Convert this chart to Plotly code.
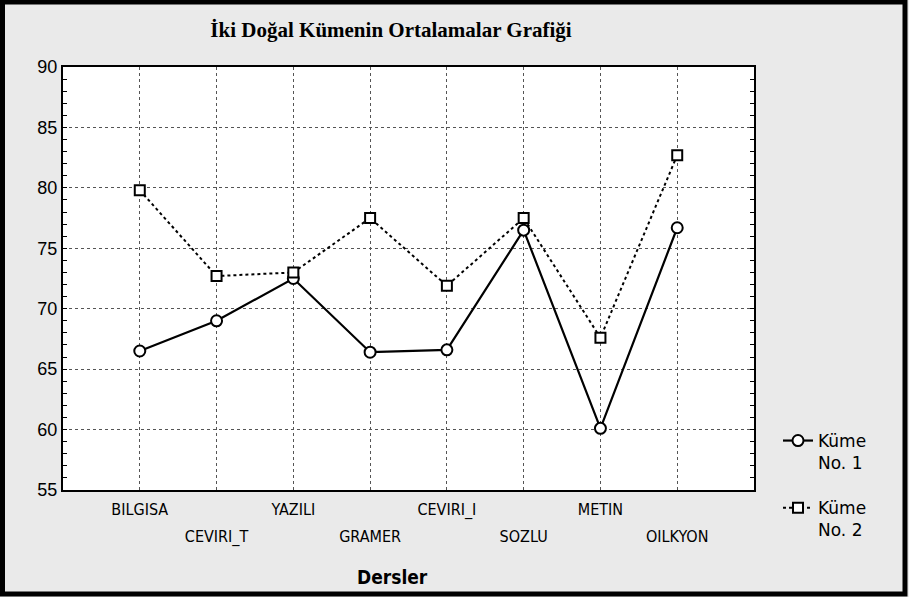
import plotly.graph_objects as go

categories = ["BILGISA", "CEVIRI_T", "YAZILI", "GRAMER", "CEVIRI_I", "SOZLU", "METIN", "OILKYON"]
kume1 = [66.5, 69.0, 72.5, 66.4, 66.6, 76.5, 60.1, 76.7]
kume2 = [79.8, 72.7, 73.0, 77.5, 71.9, 77.5, 67.6, 82.7]
series_names = ["Küme<br>No. 1", "Küme<br>No. 2"]
y_ticks = [55, 60, 65, 70, 75, 80, 85, 90]

idx = list(range(len(categories)))
even_idx = [i for i in idx if i % 2 == 0]
odd_idx = [i for i in idx if i % 2 == 1]

W, H = 909, 597
L, R, T, B = 63, 155, 67, 107
pw, ph = W - L - R, H - T - B

def px(xp):
    return (xp - L) / pw

def py(yp):
    return (H - B - yp) / ph

fig = go.Figure()
fig.add_trace(go.Scatter(
    x=idx, y=kume1, name=series_names[0], mode="lines+markers", legendgroup="a",
    line=dict(color="black", width=2.2),
    marker=dict(symbol="circle", size=11, color="white", line=dict(color="black", width=2)),
))
fig.add_trace(go.Scatter(
    x=idx, y=kume2, name=series_names[1], mode="lines+markers", legendgroup="b",
    xaxis="x2",
    line=dict(color="black", width=2, dash="dot"),
    marker=dict(symbol="square", size=10, color="white", line=dict(color="black", width=2)),
))

fig.add_shape(type="rect", xref="paper", yref="paper",
              x0=px(2.5), x1=px(905), y0=py(594), y1=py(2),
              line=dict(color="black", width=5), fillcolor="rgba(0,0,0,0)", layer="above")

fig.add_annotation(text="<b>Dersler</b>", xref="paper", yref="paper",
                   x=px(392), y=py(577), xanchor="center", yanchor="middle", showarrow=False,
                   font=dict(family="DejaVu Sans Condensed, sans-serif", size=19, color="black"))

tick_font = dict(family="DejaVu Sans Condensed, Liberation Sans Narrow, sans-serif", size=16, color="black")

fig.update_layout(
    width=W, height=H,
    margin=dict(l=L, r=R, t=T, b=B),
    paper_bgcolor="#eaeaea",
    plot_bgcolor="white",
    title=dict(text="<b>İki Doğal Kümenin Ortalamalar Grafiği</b>",
               font=dict(family="Liberation Serif, Times New Roman, serif", size=21, color="black"),
               x=391 / W, xanchor="center", y=1 - 30 / H, yanchor="middle"),
    legend=dict(x=px(778), y=py(423), xanchor="left", yanchor="top",
                font=dict(family="DejaVu Sans, sans-serif", size=17, color="black"),
                bgcolor="rgba(0,0,0,0)", valign="top", tracegroupgap=20),
    showlegend=True,
    xaxis=dict(
        range=[-1, 8], tickmode="array", tickvals=idx,
        ticktext=[c if i % 2 == 0 else "" for i, c in enumerate(categories)],
        showgrid=True, gridcolor="#555555", griddash="dot", gridwidth=1,
        showline=True, linecolor="black", linewidth=2, mirror=True,
        ticks="", zeroline=False, ticklabelstandoff=4, tickfont=tick_font,
    ),
    xaxis2=dict(
        range=[-1, 8], overlaying="x", matches="x", side="bottom", anchor="y",
        tickmode="array", tickvals=odd_idx, ticktext=[categories[i] for i in odd_idx],
        showgrid=False, showline=False, ticks="", zeroline=False,
        ticklabelstandoff=35, tickfont=tick_font,
    ),
)
fig.update_yaxes(
    range=[55, 90], tickmode="array", tickvals=y_ticks,
    showgrid=True, gridcolor="#555555", griddash="dot", gridwidth=1,
    showline=True, linecolor="black", linewidth=2, mirror="ticks",
    ticks="inside", ticklen=4, tickcolor="black",
    minor=dict(dtick=1, ticks="inside", ticklen=4, tickcolor="black", showgrid=False),
    zeroline=False,
    tickfont=dict(family="Liberation Sans, Arial, sans-serif", size=18, color="black"),
)

fig.write_html("out.html", config={"displayModeBar": False},
               post_script="document.body.style.margin='0px';document.body.style.padding='0px';")
